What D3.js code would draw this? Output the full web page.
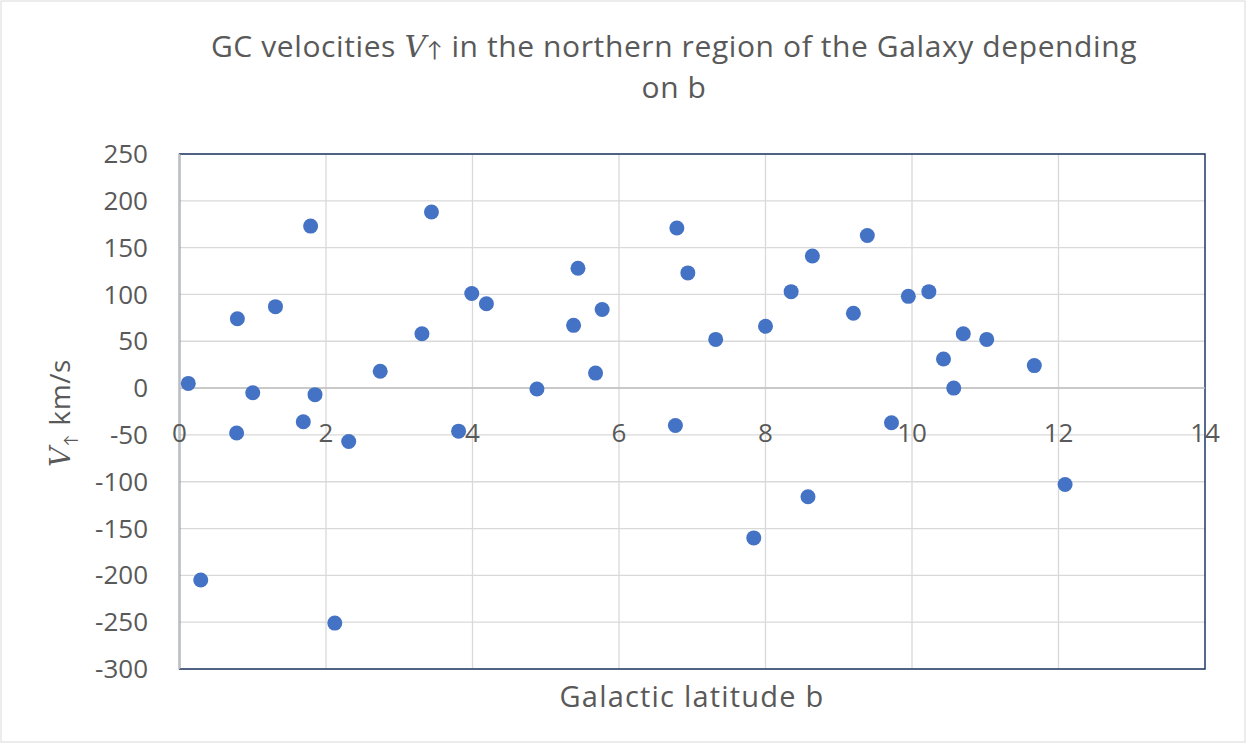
<!DOCTYPE html>
<html>
<head>
<meta charset="utf-8">
<script src="https://cdn.jsdelivr.net/npm/d3@7"></script>
<style>
  body { margin: 0; background: #fff; }
  text { font-family: "Open Sans", "Lato", sans-serif; fill: #595959; }
</style>
</head>
<body>
<div id="chart"></div>
<script>
// galactic latitude b, degrees
const bValues = [0.12, 0.29, 0.79, 0.78, 1.0, 1.31, 1.69, 1.79, 1.85, 2.12, 2.31, 2.74, 3.31, 3.44,
  3.81, 3.99, 4.19, 4.88, 5.38, 5.44, 5.68, 5.77, 6.77, 6.79, 6.94, 7.32, 7.84, 8.0, 8.35, 8.58,
  8.64, 9.2, 9.39, 9.72, 9.95, 10.23, 10.43, 10.57, 10.7, 11.02, 11.67, 12.09];
// velocity V, km/s
const vValues = [5, -205, 74, -48, -5, 87, -36, 173, -7, -251, -57, 18, 58, 188,
  -46, 101, 90, -1, 67, 128, 16, 84, -40, 171, 123, 52, -160, 66, 103, -116,
  141, 80, 163, -37, 98, 103, 31, 0, 58, 52, 24, -103];
const xTicks = [0, 2, 4, 6, 8, 10, 12, 14];
const yTicks = [250, 200, 150, 100, 50, 0, -50, -100, -150, -200, -250, -300];

const width = 1247, height = 744;
const margin = { top: 154, right: 42, bottom: 75, left: 179.5 };

const svg = d3.select("#chart").append("svg")
  .attr("width", width)
  .attr("height", height);

// chart frame
svg.append("rect")
  .attr("x", 1).attr("y", 1)
  .attr("width", width - 3).attr("height", height - 3)
  .attr("fill", "#fff")
  .attr("stroke", "#d9d9d9");

const x = d3.scaleLinear().domain([0, 14]).range([margin.left, width - margin.right]);
const y = d3.scaleLinear().domain([-300, 250]).range([height - margin.bottom, margin.top]);

// gridlines
svg.append("g")
  .selectAll("line")
  .data(yTicks)
  .join("line")
  .attr("x1", x(0)).attr("x2", x(14))
  .attr("y1", d => y(d)).attr("y2", d => y(d))
  .attr("stroke", "#d9d9d9")
  .attr("stroke-width", 1.3);

svg.append("g")
  .selectAll("line")
  .data(xTicks.slice(1, -1))
  .join("line")
  .attr("x1", d => x(d)).attr("x2", d => x(d))
  .attr("y1", y(250)).attr("y2", y(-300))
  .attr("stroke", "#d9d9d9")
  .attr("stroke-width", 1.3);

// plot area border
svg.append("rect")
  .attr("x", x(0)).attr("y", y(250))
  .attr("width", x(14) - x(0)).attr("height", y(-300) - y(250))
  .attr("fill", "none")
  .attr("stroke", "#203864")
  .attr("stroke-width", 1.5);

// axis lines crossing at zero
svg.append("line")
  .attr("x1", x(0)).attr("x2", x(14))
  .attr("y1", y(0)).attr("y2", y(0))
  .attr("stroke", "#bfbfbf").attr("stroke-width", 1.5);
svg.append("line")
  .attr("x1", x(0)).attr("x2", x(0))
  .attr("y1", y(250)).attr("y2", y(-300))
  .attr("stroke", "#bfbfbf").attr("stroke-width", 1.5);

// y tick labels
svg.append("g")
  .selectAll("text")
  .data(yTicks)
  .join("text")
  .attr("x", 148)
  .attr("y", d => y(d))
  .attr("dy", "0.35em")
  .attr("text-anchor", "end")
  .attr("font-size", 26)
  .text(d => d);

// x tick labels, sitting under the zero line
svg.append("g")
  .selectAll("text")
  .data(xTicks)
  .join("text")
  .attr("x", d => x(d))
  .attr("y", y(0) + 54)
  .attr("text-anchor", "middle")
  .attr("font-size", 26)
  .text(d => d);

// points
svg.append("g")
  .selectAll("circle")
  .data(bValues.map((b, i) => ({ b, v: vValues[i] })))
  .join("circle")
  .attr("cx", d => x(d.b))
  .attr("cy", d => y(d.v))
  .attr("r", 7.5)
  .attr("fill", "#4472c4");

// title
const title = svg.append("text")
  .attr("x", 674)
  .attr("y", 57)
  .attr("text-anchor", "middle")
  .attr("font-size", 30)
  .attr("letter-spacing", 0.6);
title.append("tspan").text("GC velocities ");
title.append("tspan")
  .style("font-family", "'DejaVu Serif', serif")
  .attr("font-style", "italic")
  .text("V");
title.append("tspan").attr("font-size", 21).text("↑");
title.append("tspan").text(" in the northern region of the Galaxy depending");
svg.append("text")
  .attr("x", 674)
  .attr("y", 98)
  .attr("text-anchor", "middle")
  .attr("font-size", 30)
  .attr("letter-spacing", 0.6)
  .text("on b");

// axis titles
svg.append("text")
  .attr("x", 692)
  .attr("y", 707)
  .attr("text-anchor", "middle")
  .attr("font-size", 29)
  .attr("letter-spacing", 1.2)
  .text("Galactic latitude b");

const yTitle = svg.append("text")
  .attr("transform", "translate(70, 413) rotate(-90)")
  .attr("text-anchor", "middle")
  .attr("font-size", 28)
  .attr("letter-spacing", 0.6);
yTitle.append("tspan")
  .style("font-family", "'DejaVu Serif', serif")
  .attr("font-style", "italic")
  .text("V");
yTitle.append("tspan").attr("font-size", 16).attr("dy", 6).text("↑");
yTitle.append("tspan").attr("dy", -6).text(" km/s");
</script>
</body>
</html>
